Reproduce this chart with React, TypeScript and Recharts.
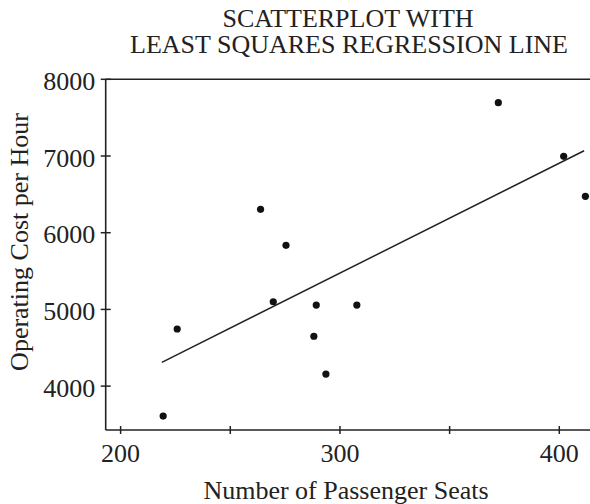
import React from "react";
import { ScatterChart, Scatter, XAxis, YAxis, ReferenceLine } from "recharts";

const seats = [219.4, 225.8, 263.8, 269.6, 275.4, 288.1, 289.2, 293.6, 307.7, 372.2, 402, 411.9];
const costs = [3610, 4745, 6305, 5100, 5835, 4650, 5057, 4157, 5057, 7695, 6996, 6474];
const regressionSeats = [218.8, 411.3];
const regressionCosts = [4310, 7069];
const xTicks = [200, 250, 300, 350, 400];
const xTickLabels = ["200", "", "300", "", "400"];
const yTicks = [4000, 5000, 6000, 7000, 8000];
const yTickLabels = ["4000", "5000", "6000", "7000", "8000"];
const titleLines = ["SCATTERPLOT WITH", "LEAST SQUARES REGRESSION LINE"];
const xTitle = "Number of Passenger Seats";
const yTitle = "Operating Cost per Hour";

const points = seats.map((s, i) => ({ x: s, y: costs[i] }));
const segment = regressionSeats.map((s, i) => ({ x: s, y: regressionCosts[i] }));

const FONT = "'Liberation Serif', 'Times New Roman', serif";
const INK = "#222";

const XTick = (props: any) => {
  const { x, y, payload, index } = props;
  const label = xTickLabels[xTicks.indexOf(payload.value)] ?? "";
  return (
    <g>
      <line x1={x} x2={x} y1={y - 4} y2={y + 4} stroke={INK} strokeWidth={1.5} />
      {label && (
        <text x={x} y={y + 31.5} textAnchor="middle" fontFamily={FONT} fontSize={26} fill={INK}>
          {label}
        </text>
      )}
    </g>
  );
};

const YTick = (props: any) => {
  const { x, y, payload } = props;
  const label = yTickLabels[yTicks.indexOf(payload.value)] ?? "";
  return (
    <g>
      <line x1={x - 5} x2={x + 5} y1={y} y2={y} stroke={INK} strokeWidth={1.5} />
      <text x={x - 10.5} y={y + 10.5} textAnchor="end" fontFamily={FONT} fontSize={26} fill={INK}>
        {label}
      </text>
    </g>
  );
};

export default function App() {
  return (
    <div style={{ position: "absolute", left: 0, top: 0, width: 590, height: 504, background: "#fff" }}>
      <ScatterChart width={590} height={504} margin={{ top: 79.3, right: 0, bottom: 0, left: 0 }}>
        <XAxis
          type="number"
          dataKey="x"
          domain={[193.2, 414]}
          ticks={xTicks}
          allowDataOverflow
          height={74}
          tickSize={0}
          tickMargin={0}
          tickLine={false}
          axisLine={{ stroke: INK, strokeWidth: 1.6 }}
          tick={<XTick />}
          interval={0}
        />
        <YAxis
          type="number"
          dataKey="y"
          domain={[3428, 8000]}
          ticks={yTicks}
          allowDataOverflow
          width={105.7}
          tickSize={0}
          tickMargin={0}
          tickLine={false}
          axisLine={{ stroke: INK, strokeWidth: 1.6 }}
          tick={<YTick />}
          interval={0}
        />
        <ReferenceLine y={8000} stroke={INK} strokeWidth={1.6} ifOverflow="extendDomain" />
        <ReferenceLine segment={segment} stroke={INK} strokeWidth={1.5} />
        <Scatter
          data={points}
          isAnimationActive={false}
          shape={(p: any) => <circle cx={p.cx} cy={p.cy} r={3.6} fill="#111" />}
        />
        <text x={348} y={27} textAnchor="middle" fontFamily={FONT} fontSize={26} fill={INK}>
          {titleLines[0]}
        </text>
        <text x={349} y={53} textAnchor="middle" fontFamily={FONT} fontSize={26} fill={INK}>
          {titleLines[1]}
        </text>
        <text x={346} y={499} textAnchor="middle" fontFamily={FONT} fontSize={26} fill={INK}>
          {xTitle}
        </text>
        <text
          x={28}
          y={242}
          textAnchor="middle"
          fontFamily={FONT}
          fontSize={26}
          fill={INK}
          transform="rotate(-90 28 242)"
        >
          {yTitle}
        </text>
      </ScatterChart>
    </div>
  );
}
